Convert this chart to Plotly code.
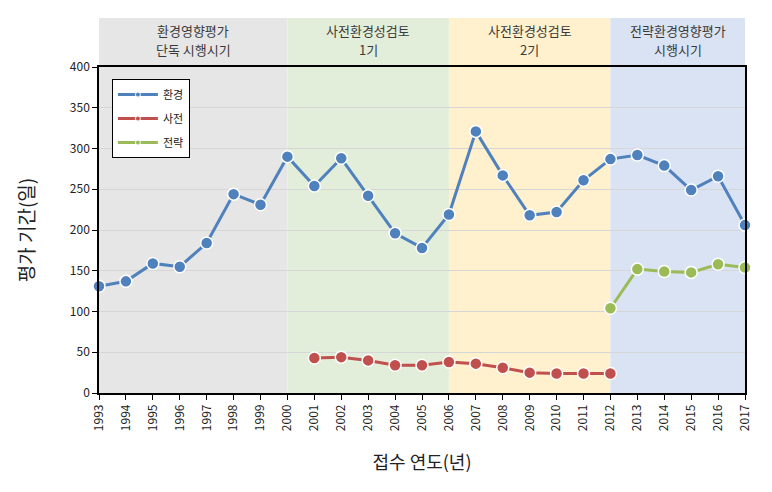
import plotly.graph_objects as go

years = list(range(1993, 2018))

# 환경영향평가 (all years)
env_vals = [131, 137, 159, 155, 184, 244, 231, 290, 254, 288, 242, 196, 178,
            219, 321, 267, 218, 222, 261, 287, 292, 279, 249, 266, 206]

# 사전환경성검토 (2001-2012)
pre_years = list(range(2001, 2013))
pre_vals = [43, 44, 40, 34, 34, 38, 36, 31, 25, 24, 24, 24]

# 전략환경영향평가 (2012-2017)
str_years = list(range(2012, 2018))
str_vals = [104, 152, 149, 148, 158, 154]

# period bands: start, end, header lines, colour
periods = [
    (1993, 2000, ('환경영향평가', '단독 시행시기'), '#E6E6E6'),
    (2000, 2006, ('사전환경성검토', '1기'), '#E3EEDA'),
    (2006, 2012, ('사전환경성검토', '2기'), '#FFF1CE'),
    (2012, 2017, ('전략환경영향평가', '시행시기'), '#DAE3F3'),
]

FONT = 'Noto Sans CJK KR'

fig = go.Figure()

series = [
    ('환경', years, env_vals, '#4F81BD'),
    ('사전', pre_years, pre_vals, '#C0504D'),
    ('전략', str_years, str_vals, '#9BBB59'),
]

for name, xs, ys, color in series:
    fig.add_trace(go.Scatter(
        x=xs, y=ys, name=name, mode='lines+markers', showlegend=False,
        line=dict(color=color, width=3),
        marker=dict(size=12, color=color, line=dict(color='white', width=1.5)),
        cliponaxis=False,
    ))

# legend entries with the small dot like the original legend
for name, xs, ys, color in series:
    fig.add_trace(go.Scatter(
        x=[None], y=[None], name=name, mode='lines+markers',
        legendgroup=name,
        line=dict(color=color, width=3),
        marker=dict(size=5, color=color, line=dict(color='white', width=1)),
    ))

shapes = []
annotations = []
for x0, x1, (line1, line2), color in periods:
    shapes.append(dict(
        type='rect', xref='x', yref='paper', x0=x0, x1=x1, y0=0, y1=1.15,
        fillcolor=color, line=dict(width=0), layer='below',
    ))
    for text, ypos in ((line1, 1.112), (line2, 1.055)):
        annotations.append(dict(
            x=(x0 + x1) / 2, y=ypos, xref='x', yref='paper', text=text,
            xanchor='center', yanchor='middle', borderpad=0,
            showarrow=False, font=dict(family=FONT, size=13, color='#3A3A3A'),
        ))

fig.update_layout(
    width=756, height=476,
    margin=dict(l=91, r=13, t=59, b=91),
    paper_bgcolor='white',
    plot_bgcolor='rgba(0,0,0,0)',
    font=dict(family=FONT, size=12, color='#222222'),
    shapes=shapes,
    annotations=annotations,
    xaxis=dict(
        range=[1993, 2017], tickmode='array', tickvals=years,
        ticktext=[str(y) for y in years], tickangle=-90,
        showgrid=False, showline=True, linecolor='black', linewidth=1.5,
        mirror=True, ticks='outside', ticklen=5, tickcolor='black',
        tickfont=dict(size=12),
        title=dict(text='접수 연도(년)', font=dict(size=18), standoff=26),
    ),
    yaxis=dict(
        range=[0, 400], dtick=50, showgrid=True, gridcolor='#D6D6D6',
        zeroline=False, showline=True, linecolor='black', linewidth=1.5,
        mirror=True, ticks='outside', ticklen=5, tickcolor='black',
        tickfont=dict(size=12),
        title=dict(text='평가 기간(일)', font=dict(size=19), standoff=30),
    ),
    legend=dict(
        x=0.02, y=0.963, xanchor='left', yanchor='top',
        bgcolor='white', bordercolor='black', borderwidth=1,
        font=dict(size=11), tracegroupgap=5, itemwidth=40,
    ),
)

fig.write_html('out.html')
